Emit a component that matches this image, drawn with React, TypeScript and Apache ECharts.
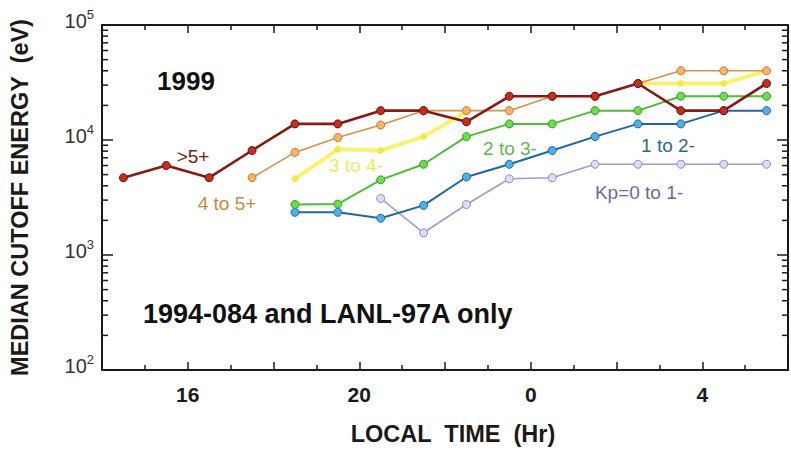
import React, { useEffect, useRef } from "react";
import * as echarts from "echarts";

// ---- data (local time in hours, 24 = midnight; values in eV) ----
const kp56Hours = [14.5, 15.5, 16.5, 17.5, 18.5, 19.5, 20.5, 21.5, 22.5, 23.5, 24.5, 25.5, 26.5, 27.5, 28.5, 29.5];
const kp56Values = [4700, 6000, 4700, 8100, 13800, 13800, 18000, 18000, 14400, 24000, 24000, 24000, 31000, 18000, 18000, 31000];

const kp45Hours = [17.5, 18.5, 19.5, 20.5, 21.5, 22.5, 23.5, 24.5, 25.5, 26.5, 27.5, 28.5, 29.5];
const kp45Values = [4700, 7800, 10500, 13500, 18000, 18000, 18000, 24000, 24000, 31000, 40000, 40000, 40000];

const kp34Hours = [18.5, 19.5, 20.5, 21.5, 22.5, 23.5, 24.5, 25.5, 26.5, 27.5, 28.5, 29.5];
const kp34Values = [4600, 8300, 8100, 10700, 17500, null, null, null, 31000, 31000, 31000, 40000];

const kp23Hours = [18.5, 19.5, 20.5, 21.5, 22.5, 23.5, 24.5, 25.5, 26.5, 27.5, 28.5, 29.5];
const kp23Values = [2750, 2770, 4500, 6150, 10700, 13800, 13800, 18000, 18000, 24000, 24000, 24000];

const kp12Hours = [18.5, 19.5, 20.5, 21.5, 22.5, 23.5, 24.5, 25.5, 26.5, 27.5, 28.5, 29.5];
const kp12Values = [2350, 2350, 2090, 2700, 4770, 6150, 8100, 10700, 13800, 13800, 18000, 18000];

const kp01Hours = [20.5, 21.5, 22.5, 23.5, 24.5, 25.5, 26.5, 27.5, 28.5, 29.5];
const kp01Values = [3100, 1560, 2750, 4600, 4700, 6150, 6150, 6150, 6150, 6150];

const seriesNames = [">5+", "4 to 5+", "3 to 4-", "2 to 3-", "1 to 2-", "Kp=0 to 1-"];

const xLabelHours = [16, 20, 24, 28];
const xLabelTexts = ["16", "20", "0", "4"];
const yMinorTicks = [
  200, 300, 400, 500, 600, 700, 800, 900,
  2000, 3000, 4000, 5000, 6000, 7000, 8000, 9000,
  20000, 30000, 40000, 50000, 60000, 70000, 80000, 90000,
];

const X_MIN = 14;
const X_MAX = 30;
const FONT = "'Liberation Sans', Arial, Helvetica, sans-serif";

function pairs(h: number[], v: (number | null)[]) {
  return h.map((x, i) => [x, v[i] === null ? "-" : v[i]]);
}

export default function App() {
  const ref = useRef<HTMLDivElement>(null);

  useEffect(() => {
    if (!ref.current) return;
    const chart = echarts.init(ref.current, undefined, { renderer: "svg" });

    const lineSeries = (
      name: string,
      data: any[],
      lineColor: string,
      width: number,
      fill: string,
      border: string,
      size: number,
      z: number
    ) => ({
      name,
      type: "line",
      data,
      z,
      symbol: "circle",
      symbolSize: size,
      connectNulls: false,
      lineStyle: { color: lineColor, width },
      itemStyle: { color: fill, borderColor: border, borderWidth: 1 },
    });

    const axisLine = { show: true, lineStyle: { color: "#1a1a1a", width: 2 } };

    const xCommon = {
      type: "value",
      min: X_MIN,
      max: X_MAX,
      interval: 2,
      axisLine,
      axisTick: { show: true, inside: true, length: 8, lineStyle: { color: "#1a1a1a", width: 1.5 } },
      minorTick: { show: true, splitNumber: 2, length: 5, lineStyle: { color: "#1a1a1a", width: 1.5 } },
      splitLine: { show: false },
      minorSplitLine: { show: false },
    };

    const yCommon = {
      type: "log",
      logBase: 10,
      min: 100,
      max: 100000,
      axisLine,
      axisTick: { show: true, inside: true, length: 11, lineStyle: { color: "#1a1a1a", width: 1.5 } },
      splitLine: { show: false },
    };

    chart.setOption({
      animation: false,
      grid: { left: 95, top: 25, right: -8, bottom: 74 },
      xAxis: [
        {
          ...xCommon,
          position: "bottom",
          name: "LOCAL  TIME  (Hr)",
          nameLocation: "middle",
          nameGap: 52,
          nameTextStyle: { fontFamily: FONT, fontWeight: "bold", fontSize: 23.5, color: "#1a1a1a", padding: [0, 0, 0, 16] },
          axisLabel: {
            margin: 14,
            fontFamily: FONT,
            fontWeight: "bold",
            fontSize: 21,
            color: "#1a1a1a",
            formatter: (v: number) => {
              const i = xLabelHours.indexOf(v);
              return i >= 0 ? xLabelTexts[i] : "";
            },
          },
        },
        { ...xCommon, position: "top", axisLabel: { show: false } },
      ],
      yAxis: [
        {
          ...yCommon,
          position: "left",
          name: "MEDIAN CUTOFF ENERGY  (eV)",
          nameLocation: "middle",
          nameGap: 70,
          nameRotate: 90,
          nameTextStyle: { fontFamily: FONT, fontWeight: "bold", fontSize: 23.5, color: "#1a1a1a" },
          axisLabel: {
            margin: 8,
            padding: [0, 0, 11, 0],
            formatter: (v: number) => `{b|10}{s|${Math.round(Math.log10(v))}}`,
            rich: {
              b: { fontFamily: FONT, fontSize: 20, color: "#333", lineHeight: 23, verticalAlign: "bottom" },
              s: { fontFamily: FONT, fontSize: 13, color: "#333", lineHeight: 13, verticalAlign: "top" },
            },
          },
        },
        { ...yCommon, position: "right", axisLabel: { show: false } },
      ],
      series: [
        {
          type: "custom",
          silent: true,
          clip: false,
          xAxisIndex: 0,
          yAxisIndex: 0,
          data: yMinorTicks.map((v) => [X_MIN, v]),
          renderItem: (_p: any, api: any) => {
            const v = api.value(1);
            const pL = api.coord([X_MIN, v]);
            const pR = api.coord([X_MAX, v]);
            return {
              type: "group",
              children: [
                { type: "line", shape: { x1: pL[0], y1: pL[1], x2: pL[0] + 6, y2: pL[1] }, style: { stroke: "#1a1a1a", lineWidth: 1.5 } },
                { type: "line", shape: { x1: pR[0], y1: pR[1], x2: pR[0] - 6, y2: pR[1] }, style: { stroke: "#1a1a1a", lineWidth: 1.5 } },
              ],
            };
          },
        },
        lineSeries(seriesNames[5], pairs(kp01Hours, kp01Values), "#9c9cd8", 1.6, "#dcdcf6", "#8a8ac6", 8, 2),
        lineSeries(seriesNames[4], pairs(kp12Hours, kp12Values), "#1d68a6", 2, "#4db0ea", "#1d68a6", 8, 3),
        lineSeries(seriesNames[3], pairs(kp23Hours, kp23Values), "#4cbf36", 2, "#6edb4c", "#3a9a2a", 8, 4),
        lineSeries(seriesNames[2], pairs(kp34Hours, kp34Values), "#f8f26e", 4, "#f2ea48", "#f2ea48", 6, 5),
        lineSeries(seriesNames[1], pairs(kp45Hours, kp45Values), "#d99048", 1.6, "#f7b464", "#c57a30", 8, 6),
        lineSeries(seriesNames[0], pairs(kp56Hours, kp56Values), "#8a1a10", 2.6, "#c82c1c", "#6c0e08", 8, 7),
      ],
      graphic: [
        { type: "text", x: 186, y: 81, z: 1, style: { text: "1999", font: `bold 26px ${FONT}`, fill: "#111", align: "center", verticalAlign: "middle" } },
        { type: "text", x: 143, y: 314, z: 1, style: { text: "1994-084 and LANL-97A only", font: `bold 27px ${FONT}`, fill: "#111", align: "left", verticalAlign: "middle" } },
        { type: "text", x: 193, y: 156, z: 1, style: { text: seriesNames[0], font: `19px ${FONT}`, fill: "#7a1a10", align: "center", verticalAlign: "middle" } },
        { type: "text", x: 227, y: 203, z: 1, style: { text: seriesNames[1], font: `19px ${FONT}`, fill: "#c88a40", align: "center", verticalAlign: "middle" } },
        { type: "text", x: 356, y: 165, z: 1, style: { text: seriesNames[2], font: `19px ${FONT}`, fill: "#f0e860", align: "center", verticalAlign: "middle" } },
        { type: "text", x: 510, y: 148, z: 1, style: { text: seriesNames[3], font: `19px ${FONT}`, fill: "#5cb84a", align: "center", verticalAlign: "middle" } },
        { type: "text", x: 668, y: 145, z: 1, style: { text: seriesNames[4], font: `19px ${FONT}`, fill: "#2a6a9a", align: "center", verticalAlign: "middle" } },
        { type: "text", x: 639, y: 192, z: 1, style: { text: seriesNames[5], font: `19px ${FONT}`, fill: "#6a6aa2", align: "center", verticalAlign: "middle" } },
      ],
    });

    return () => chart.dispose();
  }, []);

  return (
    <div
      ref={ref}
      style={{ position: "absolute", left: 0, top: 0, width: 791, height: 451, background: "#fff" }}
    />
  );
}
